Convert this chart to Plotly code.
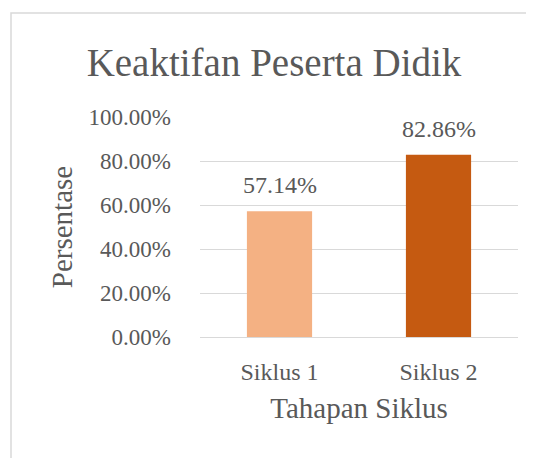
import plotly.graph_objects as go

categories = ["Siklus 1", "Siklus 2"]
values = [57.14, 82.86]
colors = ["#F4B183", "#C55A11"]
tick_vals = [0, 20, 40, 60, 80, 100]
tick_text = ["0.00%", "20.00%", "40.00%", "60.00%", "80.00%", "100.00%"]

FONT = "Liberation Serif"
TXT = "#595959"

# page renders with an 8px body offset
OFF = 8
W, H = 534, 458
L, R, T, B = 200 - OFF, 16 + OFF, 117 - OFF, 121 + OFF
pw, ph = W - L - R, H - T - B

fig = go.Figure()
fig.add_trace(go.Bar(
    x=categories, y=values, marker=dict(color=colors, line=dict(width=0)),
    width=0.41, hoverinfo="skip",
))

for c, v in zip(categories, values):
    fig.add_annotation(x=c, y=v, text=f"{v:.2f}%", showarrow=False,
                       yanchor="middle", yshift=26,
                       font=dict(family=FONT, size=24, color=TXT))

fig.update_layout(
    width=W, height=H,
    margin=dict(l=L, r=R, t=T, b=B),
    paper_bgcolor="white", plot_bgcolor="white",
    showlegend=False,
    title=dict(text="Keaktifan Peserta Didik", x=(274 - OFF) / W, xanchor="center",
               y=1 - (62 - OFF) / H, yanchor="middle",
               font=dict(family=FONT, size=39, color=TXT)),
    xaxis=dict(showgrid=False, showline=False, ticks="", ticklabelstandoff=18,
               tickfont=dict(family=FONT, size=24, color=TXT),
               title=dict(text="Tahapan Siklus", standoff=13,
                          font=dict(family=FONT, size=29, color=TXT))),
    yaxis=dict(range=[0, 100], tickvals=tick_vals, ticktext=tick_text,
               showgrid=True, gridcolor="#D9D9D9", gridwidth=1.3,
               zeroline=True, zerolinecolor="#D9D9D9", zerolinewidth=1.3,
               showline=False, ticks="", ticklabelstandoff=28,
               tickfont=dict(family=FONT, size=23, color=TXT),
               title=dict(text="Persentase", standoff=7,
                          font=dict(family=FONT, size=29, color=TXT))),
    shapes=[dict(type="rect", xref="paper", yref="paper",
                 x0=(11 - OFF - L) / pw, x1=(W + 20 - L) / pw,
                 y0=(H - B - (H + 20)) / ph, y1=(H - B - (13 - OFF)) / ph,
                 line=dict(color="#D9D9D9", width=1.5), fillcolor="rgba(0,0,0,0)",
                 layer="below")],
)

fig.write_html("out.html")
